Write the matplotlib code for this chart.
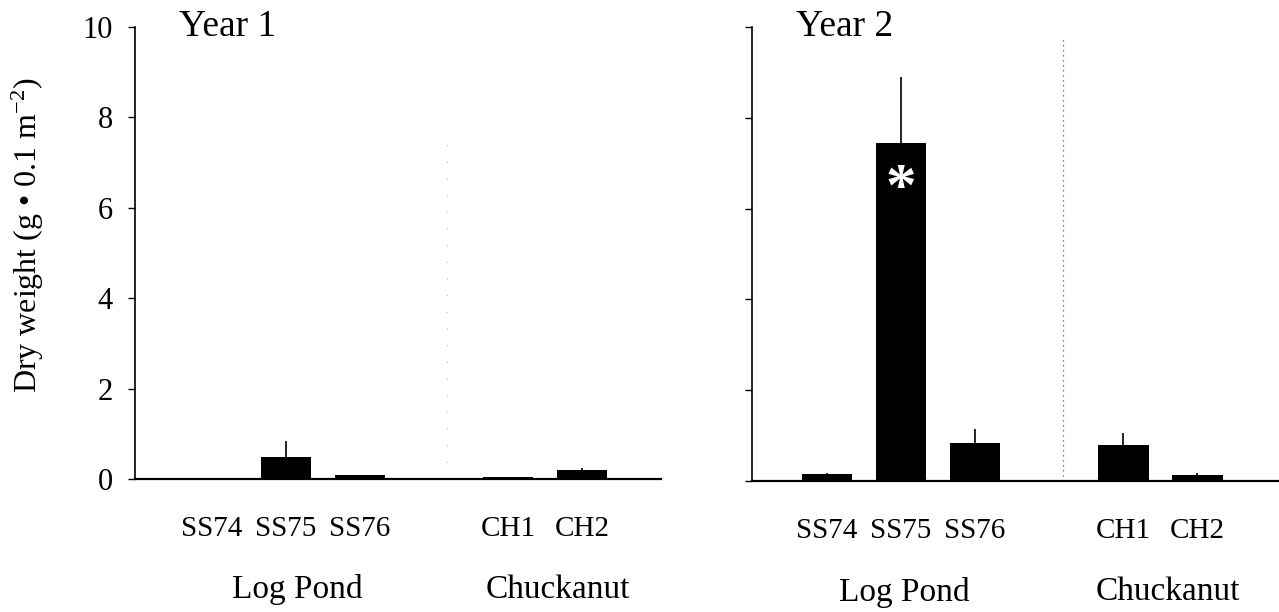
import numpy as np
import matplotlib
matplotlib.use("Agg")
import matplotlib.pyplot as plt
from matplotlib.transforms import blended_transform_factory

plt.rcParams["font.family"] = ["Liberation Serif", "DejaVu Serif"]
plt.rcParams["mathtext.fontset"] = "custom"
plt.rcParams["mathtext.rm"] = "Liberation Serif"
plt.rcParams["mathtext.it"] = "Liberation Serif:italic"

# Sites and their grouping
sites = ["SS74", "SS75", "SS76", "CH1", "CH2"]
site_pos = [0, 1, 2, 4, 5]
groups = ["Log Pond", "Chuckanut"]
group_pos_y1 = [1.15, 4.68]
group_pos_y2 = [1.05, 4.6]
divider_pos = 3.18

# Mean dry weight (g per 0.1 m^2) and standard error
year1_mean = [0.02, 0.49, 0.08, 0.04, 0.20]
year1_se = [0.0, 0.34, 0.0, 0.0, 0.04]
year2_mean = [0.15, 7.45, 0.84, 0.80, 0.13]
year2_se = [0.03, 1.45, 0.30, 0.25, 0.05]

years = ["Year 1", "Year 2"]
yticks = [0, 2, 4, 6, 8, 10]

W, H = 1279, 612
fig = plt.figure(figsize=(W / 100, H / 100), dpi=100)
ax1 = fig.add_axes([135 / W, 1 - 479 / H, (661 - 135) / W, (479 - 27) / H])
ax2 = fig.add_axes([752 / W, 1 - 481 / H, (W - 752) / W, (481 - 27) / H])


def draw(ax, mean, se, title, xlim, group_pos, show_labels, divider_style):
    ax.bar(site_pos, mean, width=0.68, color="black", zorder=2)
    ax.errorbar(site_pos, mean, yerr=[np.zeros(len(se)), se], fmt="none",
                ecolor="black", elinewidth=1.2, capsize=0, zorder=3)
    ax.set_xlim(*xlim)
    ax.set_ylim(0, 10)
    ax.set_yticks(yticks)
    ax.set_xticks(site_pos)
    ax.set_xticklabels(sites, fontsize=21)
    ax.tick_params(axis="x", length=0, pad=27)
    ax.tick_params(axis="y", direction="out", length=5, width=1, labelsize=22, pad=11)
    if not show_labels:
        ax.set_yticklabels([])
    for s in ("top", "right"):
        ax.spines[s].set_visible(False)
    ax.spines["left"].set_linewidth(1.2)
    ax.spines["bottom"].set_linewidth(1.6)
    ax.axvline(divider_pos, **divider_style, zorder=1)
    ax.text(0.083, 1.0, title, transform=ax.transAxes, fontsize=27,
            ha="left", va="center")
    tr = blended_transform_factory(ax.transData, ax.transAxes)
    for g, gx in zip(groups, group_pos):
        ax.text(gx, -0.245, g, transform=tr, fontsize=24, ha="center", va="center")


draw(ax1, year1_mean, year1_se, years[0], (-1.04, 6.07), group_pos_y1, True,
     dict(color="#bbbbbb", lw=0.8, ls=(0, (1, 14)), ymax=0.75))
draw(ax2, year2_mean, year2_se, years[1], (-1.01, 6.1), group_pos_y2, False,
     dict(color="#555555", lw=0.9, ls=(0, (1, 3)), ymax=0.98))

ax1.set_ylabel(r"Dry weight (g • 0.1 m$^{-2}$)", fontsize=23)
ax1.yaxis.set_label_coords(-0.17, 0.54)

# significance marker inside the tall bar
ax2.text(site_pos[1], 6.4, "*", color="white", fontsize=44, fontweight="bold",
         ha="center", va="center")

fig.savefig("out.png", dpi=100)
